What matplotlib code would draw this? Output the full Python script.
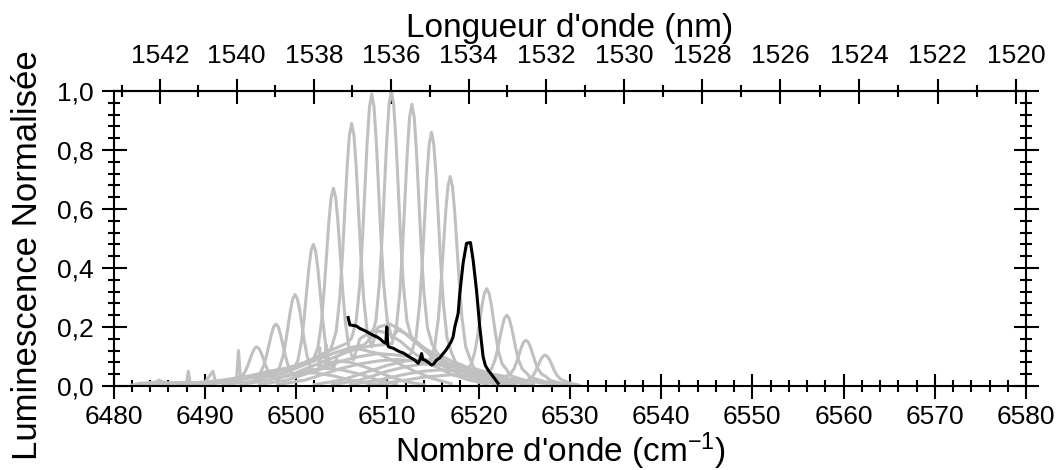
import numpy as np
import matplotlib
matplotlib.use("Agg")
import matplotlib.pyplot as plt
from matplotlib.ticker import MultipleLocator, FuncFormatter, FixedLocator

plt.rcParams['font.family'] = ['Liberation Sans', 'DejaVu Sans']
plt.rcParams['mathtext.fontset'] = 'custom'
plt.rcParams['mathtext.rm'] = 'Liberation Sans'
plt.rcParams['mathtext.default'] = 'regular'

# ---------------- data (wavenumber cm-1, normalised luminescence) ----------------
wn_1 = [6482.0, 6483.0, 6484.2, 6485.0, 6485.8, 6487.0, 6488.0, 6488.2, 6488.4, 6489.5, 6490.5, 6491.5, 6492.8,
        6493.5, 6494.0, 6494.4, 6494.7, 6494.95, 6495.2, 6495.45, 6495.7, 6495.95, 6496.2, 6496.45, 6496.7, 6497.0, 6497.4, 6497.9,
        6498.5, 6500.0, 6502.0, 6504.0, 6506.0, 6508.0, 6510.0]
lum_1 = [0.003, 0.01, 0.006, 0.02, 0.008, 0.012, 0.008, 0.05, 0.01, 0.012, 0.008, 0.015, 0.02,
         0.022, 0.03, 0.047, 0.068, 0.09, 0.111, 0.127, 0.133, 0.127, 0.111, 0.09, 0.068, 0.047, 0.03, 0.022,
         0.03, 0.04, 0.045, 0.035, 0.02, 0.008, 0.003]

wn_2 = [6482.5, 6484.0, 6486.0, 6488.0, 6490.0, 6490.9, 6491.2, 6492.5, 6494.0, 6494.9,
        6495.6, 6496.1, 6496.5, 6496.8, 6497.05, 6497.3, 6497.55, 6497.8, 6498.05, 6498.3, 6498.55, 6498.8, 6499.1, 6499.5, 6500.0,
        6501.0, 6503.0, 6505.0, 6507.0, 6509.0, 6511.0]
lum_2 = [0.005, 0.012, 0.01, 0.01, 0.012, 0.05, 0.012, 0.018, 0.025, 0.03,
         0.033, 0.045, 0.072, 0.107, 0.141, 0.175, 0.201, 0.21, 0.201, 0.175, 0.141, 0.107, 0.072, 0.045, 0.033,
         0.05, 0.06, 0.055, 0.04, 0.02, 0.006]

wn_3 = [6483.0, 6485.0, 6487.0, 6489.0, 6491.0, 6493.0, 6493.5, 6493.7, 6493.9, 6495.0, 6496.5,
        6497.7, 6498.2, 6498.6, 6498.9, 6499.15, 6499.4, 6499.65, 6499.9, 6500.15, 6500.4, 6500.65, 6500.9, 6501.2, 6501.6, 6502.1,
        6502.5, 6502.6, 6502.7, 6503.2, 6503.3, 6503.4, 6504.5, 6506.0, 6508.0, 6510.0, 6512.0, 6514.0]
lum_3 = [0.005, 0.01, 0.008, 0.012, 0.015, 0.02, 0.03, 0.12, 0.03, 0.03, 0.038,
         0.044, 0.063, 0.104, 0.155, 0.207, 0.258, 0.296, 0.31, 0.296, 0.258, 0.207, 0.155, 0.104, 0.063, 0.044,
         0.06, 0.13, 0.065, 0.07, 0.14, 0.075, 0.085, 0.08, 0.06, 0.035, 0.015, 0.004]

wn_4 = [6484.0, 6486.0, 6488.0, 6490.0, 6492.0, 6494.0, 6496.0, 6497.5, 6498.7,
        6499.7, 6500.2, 6500.6, 6500.9, 6501.15, 6501.4, 6501.65, 6501.9, 6502.15, 6502.4, 6502.65, 6502.9, 6503.2, 6503.6, 6504.1,
        6504.5, 6505.5, 6507.0, 6509.0, 6511.0, 6513.0, 6515.0, 6517.0]
lum_4 = [0.005, 0.01, 0.01, 0.012, 0.018, 0.025, 0.03, 0.035, 0.045,
         0.057, 0.086, 0.151, 0.233, 0.316, 0.397, 0.458, 0.48, 0.458, 0.397, 0.316, 0.233, 0.151, 0.086, 0.057,
         0.1, 0.12, 0.125, 0.11, 0.08, 0.05, 0.025, 0.008]

wn_5 = [6486.0, 6489.0, 6492.0, 6495.0, 6497.0, 6499.0, 6501.0, 6501.4,
        6501.9, 6502.4, 6502.8, 6503.1, 6503.35, 6503.6, 6503.85, 6504.1, 6504.35, 6504.6, 6504.85, 6505.1, 6505.4, 6505.8, 6506.3,
        6507.0, 6508.5, 6510.0, 6511.5, 6513.0, 6515.0, 6517.0, 6519.0, 6521.0]
lum_5 = [0.005, 0.01, 0.02, 0.035, 0.05, 0.06, 0.075, 0.083,
         0.089, 0.13, 0.219, 0.331, 0.445, 0.556, 0.639, 0.67, 0.639, 0.556, 0.445, 0.331, 0.219, 0.13, 0.089,
         0.16, 0.19, 0.18, 0.15, 0.11, 0.07, 0.04, 0.02, 0.006]

wn_6 = [6488.0, 6491.0, 6494.0, 6497.0, 6499.0, 6501.0, 6502.5, 6503.4,
        6503.9, 6504.4, 6504.8, 6505.1, 6505.35, 6505.6, 6505.85, 6506.1, 6506.35, 6506.6, 6506.85, 6507.1, 6507.4, 6507.8, 6508.3,
        6509.0, 6510.3, 6511.5, 6513.0, 6514.5, 6516.0, 6518.0, 6520.0, 6522.0]
lum_6 = [0.005, 0.01, 0.025, 0.045, 0.06, 0.08, 0.1, 0.11,
         0.132, 0.185, 0.301, 0.447, 0.596, 0.741, 0.85, 0.89, 0.85, 0.741, 0.596, 0.447, 0.301, 0.185, 0.132,
         0.2, 0.21, 0.19, 0.15, 0.11, 0.07, 0.04, 0.02, 0.006]

wn_7 = [6490.0, 6493.0, 6496.0, 6499.0, 6501.0, 6503.0, 6504.5, 6505.6,
        6506.1, 6506.6, 6507.0, 6507.3, 6507.55, 6507.8, 6508.05, 6508.3, 6508.55, 6508.8, 6509.05, 6509.3, 6509.6, 6510.0, 6510.5,
        6511.2, 6512.5, 6514.0, 6515.5, 6517.0, 6519.0, 6521.0, 6523.0]
lum_7 = [0.005, 0.015, 0.035, 0.06, 0.08, 0.11, 0.13, 0.145,
         0.163, 0.221, 0.347, 0.507, 0.669, 0.828, 0.946, 0.99, 0.946, 0.828, 0.669, 0.507, 0.347, 0.221, 0.163,
         0.19, 0.17, 0.13, 0.1, 0.07, 0.04, 0.02, 0.005]

wn_8 = [6492.0, 6495.0, 6498.0, 6500.0, 6502.0, 6504.0, 6506.0, 6507.5,
        6508.25, 6508.75, 6509.15, 6509.45, 6509.7, 6509.95, 6510.2, 6510.45, 6510.7, 6510.95, 6511.2, 6511.45, 6511.75, 6512.15, 6512.65,
        6513.5, 6515.0, 6516.5, 6518.0, 6520.0, 6522.0, 6524.0]
lum_8 = [0.005, 0.015, 0.04, 0.06, 0.085, 0.11, 0.13, 0.14,
         0.164, 0.221, 0.35, 0.511, 0.675, 0.836, 0.956, 1.0, 0.956, 0.836, 0.675, 0.511, 0.35, 0.221, 0.164,
         0.14, 0.11, 0.08, 0.055, 0.03, 0.012, 0.003]

wn_9 = [6494.0, 6497.0, 6500.0, 6502.0, 6504.0, 6506.0, 6508.0, 6509.5,
        6510.5, 6511.0, 6511.4, 6511.7, 6511.95, 6512.2, 6512.45, 6512.7, 6512.95, 6513.2, 6513.45, 6513.7, 6514.0, 6514.4, 6514.9,
        6515.5, 6517.0, 6518.5, 6520.0, 6522.0, 6524.0]
lum_9 = [0.005, 0.02, 0.045, 0.07, 0.095, 0.12, 0.135, 0.14,
         0.143, 0.199, 0.324, 0.481, 0.64, 0.796, 0.912, 0.955, 0.912, 0.796, 0.64, 0.481, 0.324, 0.199, 0.143,
         0.11, 0.085, 0.06, 0.04, 0.02, 0.006]

wn_10 = [6496.0, 6499.0, 6501.0, 6503.0, 6505.0, 6507.0, 6509.0, 6511.0, 6512.2,
         6512.65, 6513.15, 6513.55, 6513.85, 6514.1, 6514.35, 6514.6, 6514.85, 6515.1, 6515.35, 6515.6, 6515.85, 6516.15, 6516.55, 6517.05,
         6517.5, 6519.0, 6520.5, 6522.0, 6524.0, 6526.0]
lum_10 = [0.005, 0.02, 0.04, 0.06, 0.085, 0.1, 0.11, 0.105, 0.1,
          0.112, 0.164, 0.279, 0.423, 0.57, 0.713, 0.82, 0.86, 0.82, 0.713, 0.57, 0.423, 0.279, 0.164, 0.112,
          0.08, 0.06, 0.045, 0.03, 0.012, 0.003]

wn_11 = [6498.0, 6501.0, 6503.0, 6505.0, 6507.0, 6509.0, 6511.0, 6513.0, 6514.3,
         6514.7, 6515.2, 6515.6, 6515.9, 6516.15, 6516.4, 6516.65, 6516.9, 6517.15, 6517.4, 6517.65, 6517.9, 6518.2, 6518.6, 6519.1,
         6519.5, 6521.0, 6522.5, 6524.0, 6526.0]
lum_11 = [0.005, 0.02, 0.04, 0.06, 0.075, 0.085, 0.09, 0.085, 0.08,
          0.09, 0.133, 0.228, 0.348, 0.469, 0.588, 0.677, 0.71, 0.677, 0.588, 0.469, 0.348, 0.228, 0.133, 0.09,
          0.06, 0.045, 0.03, 0.015, 0.005]

wn_12 = [6502.0, 6505.0, 6508.0, 6510.0, 6512.0, 6514.0, 6516.0, 6517.5, 6518.2,
         6518.7, 6519.2, 6519.6, 6519.9, 6520.15, 6520.4, 6520.65, 6520.9, 6521.15, 6521.4, 6521.65, 6521.9, 6522.2, 6522.6, 6523.1,
         6523.5, 6525.0, 6527.0, 6529.0]
lum_12 = [0.005, 0.02, 0.05, 0.07, 0.085, 0.09, 0.08, 0.07, 0.058,
          0.055, 0.074, 0.116, 0.169, 0.223, 0.276, 0.315, 0.33, 0.315, 0.276, 0.223, 0.169, 0.116, 0.074, 0.055,
          0.035, 0.02, 0.01, 0.003]

wn_13 = [6504.0, 6507.0, 6510.0, 6512.0, 6514.0, 6516.0, 6518.0, 6520.0,
         6520.9, 6521.4, 6521.8, 6522.1, 6522.35, 6522.6, 6522.85, 6523.1, 6523.35, 6523.6, 6523.85, 6524.1, 6524.4, 6524.8, 6525.3,
         6525.6, 6527.2, 6529.0, 6530.5]
lum_13 = [0.005, 0.02, 0.05, 0.065, 0.075, 0.07, 0.06, 0.05,
          0.043, 0.057, 0.087, 0.125, 0.164, 0.201, 0.23, 0.24, 0.23, 0.201, 0.164, 0.125, 0.087, 0.057, 0.043,
          0.03, 0.015, 0.005, 0.002]

wn_14 = [6506.0, 6509.0, 6512.0, 6514.0, 6516.0, 6518.0, 6520.0, 6522.0,
         6523.0, 6523.5, 6523.9, 6524.2, 6524.45, 6524.7, 6524.95, 6525.2, 6525.45, 6525.7, 6525.95, 6526.2, 6526.5, 6526.9, 6527.4,
         6527.8, 6529.2, 6530.8]
lum_14 = [0.005, 0.02, 0.04, 0.05, 0.055, 0.05, 0.045, 0.038,
          0.032, 0.041, 0.059, 0.083, 0.107, 0.131, 0.149, 0.155, 0.149, 0.131, 0.107, 0.083, 0.059, 0.041, 0.032,
          0.02, 0.008, 0.002]

wn_15 = [6508.0, 6511.0, 6514.0, 6517.0, 6520.0, 6522.0, 6524.0, 6524.6,
         6525.1, 6525.6, 6526.0, 6526.3, 6526.55, 6526.8, 6527.05, 6527.3, 6527.55, 6527.8, 6528.05, 6528.3, 6528.6, 6529.0, 6529.5,
         6530.0, 6531.0]
lum_15 = [0.004, 0.015, 0.03, 0.038, 0.035, 0.028, 0.022, 0.02,
          0.016, 0.023, 0.036, 0.053, 0.071, 0.088, 0.1, 0.105, 0.1, 0.088, 0.071, 0.053, 0.036, 0.023, 0.016,
          0.01, 0.003]

# highlighted spectrum (black)
wn_black = [6505.72, 6505.9, 6506.3, 6506.64, 6507.0, 6507.36, 6507.7, 6508.09, 6508.45, 6508.83, 6509.2,
            6509.55, 6509.85, 6509.95, 6510.05, 6510.14, 6510.4, 6510.65, 6511.0, 6511.38, 6511.75, 6512.11,
            6512.5, 6513.02, 6513.38, 6513.6, 6513.76, 6513.9, 6514.12, 6514.5, 6514.85, 6515.1, 6515.4,
            6515.75, 6516.12, 6516.4, 6516.67, 6517.0, 6517.22, 6517.4, 6517.77, 6517.95, 6518.31, 6518.69,
            6519.12, 6519.41, 6519.78, 6520.14, 6520.5, 6520.75, 6521.05, 6521.6, 6522.15]
lum_black = [0.232, 0.207, 0.205, 0.203, 0.195, 0.19, 0.185, 0.178, 0.172, 0.167, 0.16,
             0.15, 0.145, 0.2, 0.14, 0.133, 0.13, 0.128, 0.122, 0.116, 0.112, 0.105,
             0.097, 0.088, 0.077, 0.09, 0.11, 0.09, 0.088, 0.08, 0.071, 0.075, 0.088,
             0.095, 0.11, 0.12, 0.133, 0.15, 0.167, 0.2, 0.246, 0.314, 0.416, 0.484,
             0.486, 0.427, 0.325, 0.2, 0.1, 0.07, 0.054, 0.032, 0.009]

gray_wn = [wn_1, wn_2, wn_3, wn_4, wn_5, wn_6, wn_7, wn_8, wn_9, wn_10, wn_11, wn_12, wn_13, wn_14, wn_15]
gray_lum = [lum_1, lum_2, lum_3, lum_4, lum_5, lum_6, lum_7, lum_8, lum_9, lum_10, lum_11, lum_12, lum_13, lum_14, lum_15]

x_major = [6480, 6490, 6500, 6510, 6520, 6530, 6540, 6550, 6560, 6570, 6580]
y_major = [0.0, 0.2, 0.4, 0.6, 0.8, 1.0]
nm_major = [1542, 1540, 1538, 1536, 1534, 1532, 1530, 1528, 1526, 1524, 1522, 1520]
nm_minor = [1543, 1541, 1539, 1537, 1535, 1533, 1531, 1529, 1527, 1525, 1523, 1521]

# ---------------- figure ----------------
fig = plt.figure(figsize=(10.59, 4.70), dpi=100)
ax = fig.add_axes([113.5 / 1059, 1 - 386 / 470, (1026 - 113.5) / 1059, (386 - 91) / 470])

for xs, ys in zip(gray_wn, gray_lum):
    ax.plot(xs, ys, color='#c0c0c0', lw=2.2, solid_joinstyle='round')
ax.plot(wn_black, lum_black, color='black', lw=2.2, solid_joinstyle='round')

ax.set_xlim(6480, 6580)
ax.set_ylim(0, 1.0)
ax.xaxis.set_major_locator(FixedLocator(x_major))
ax.yaxis.set_major_locator(FixedLocator(y_major))
ax.xaxis.set_minor_locator(MultipleLocator(2))
ax.yaxis.set_minor_locator(MultipleLocator(0.04))
ax.yaxis.set_major_formatter(FuncFormatter(lambda v, p: f"{v:.1f}".replace('.', ',')))

for s in ax.spines.values():
    s.set_linewidth(1.5)

ax.tick_params(which='major', direction='inout', length=18, width=1.5, labelsize=19,
               top=False, right=True, labelright=False, pad=5)
ax.tick_params(which='minor', direction='inout', length=9, width=1.5,
               top=False, right=True)

ax.set_xlabel("Nombre d'onde (cm$^{-1}$)", fontsize=24, labelpad=0.5)
ax.xaxis.label.set_x(0.49)
ax.set_ylabel("Luminescence Normalisée", fontsize=25)
ax.yaxis.set_label_coords(-0.076, 0.444)


def nu2nm(x):
    x = np.asarray(x, dtype=float)
    with np.errstate(divide='ignore', invalid='ignore'):
        return 1e7 / x


sec = ax.secondary_xaxis('top', functions=(nu2nm, nu2nm))
sec.set_xticks(nm_major)
sec.set_xticks(nm_minor, minor=True)
sec.tick_params(which='major', direction='inout', length=18, width=1.5, labelsize=19, pad=7.5)
sec.tick_params(which='minor', direction='inout', length=9, width=1.5)
sec.spines['top'].set_linewidth(1.5)
sec.set_xlabel("Longueur d'onde (nm)", fontsize=24, labelpad=5)

fig.savefig('out.png', dpi=100)
